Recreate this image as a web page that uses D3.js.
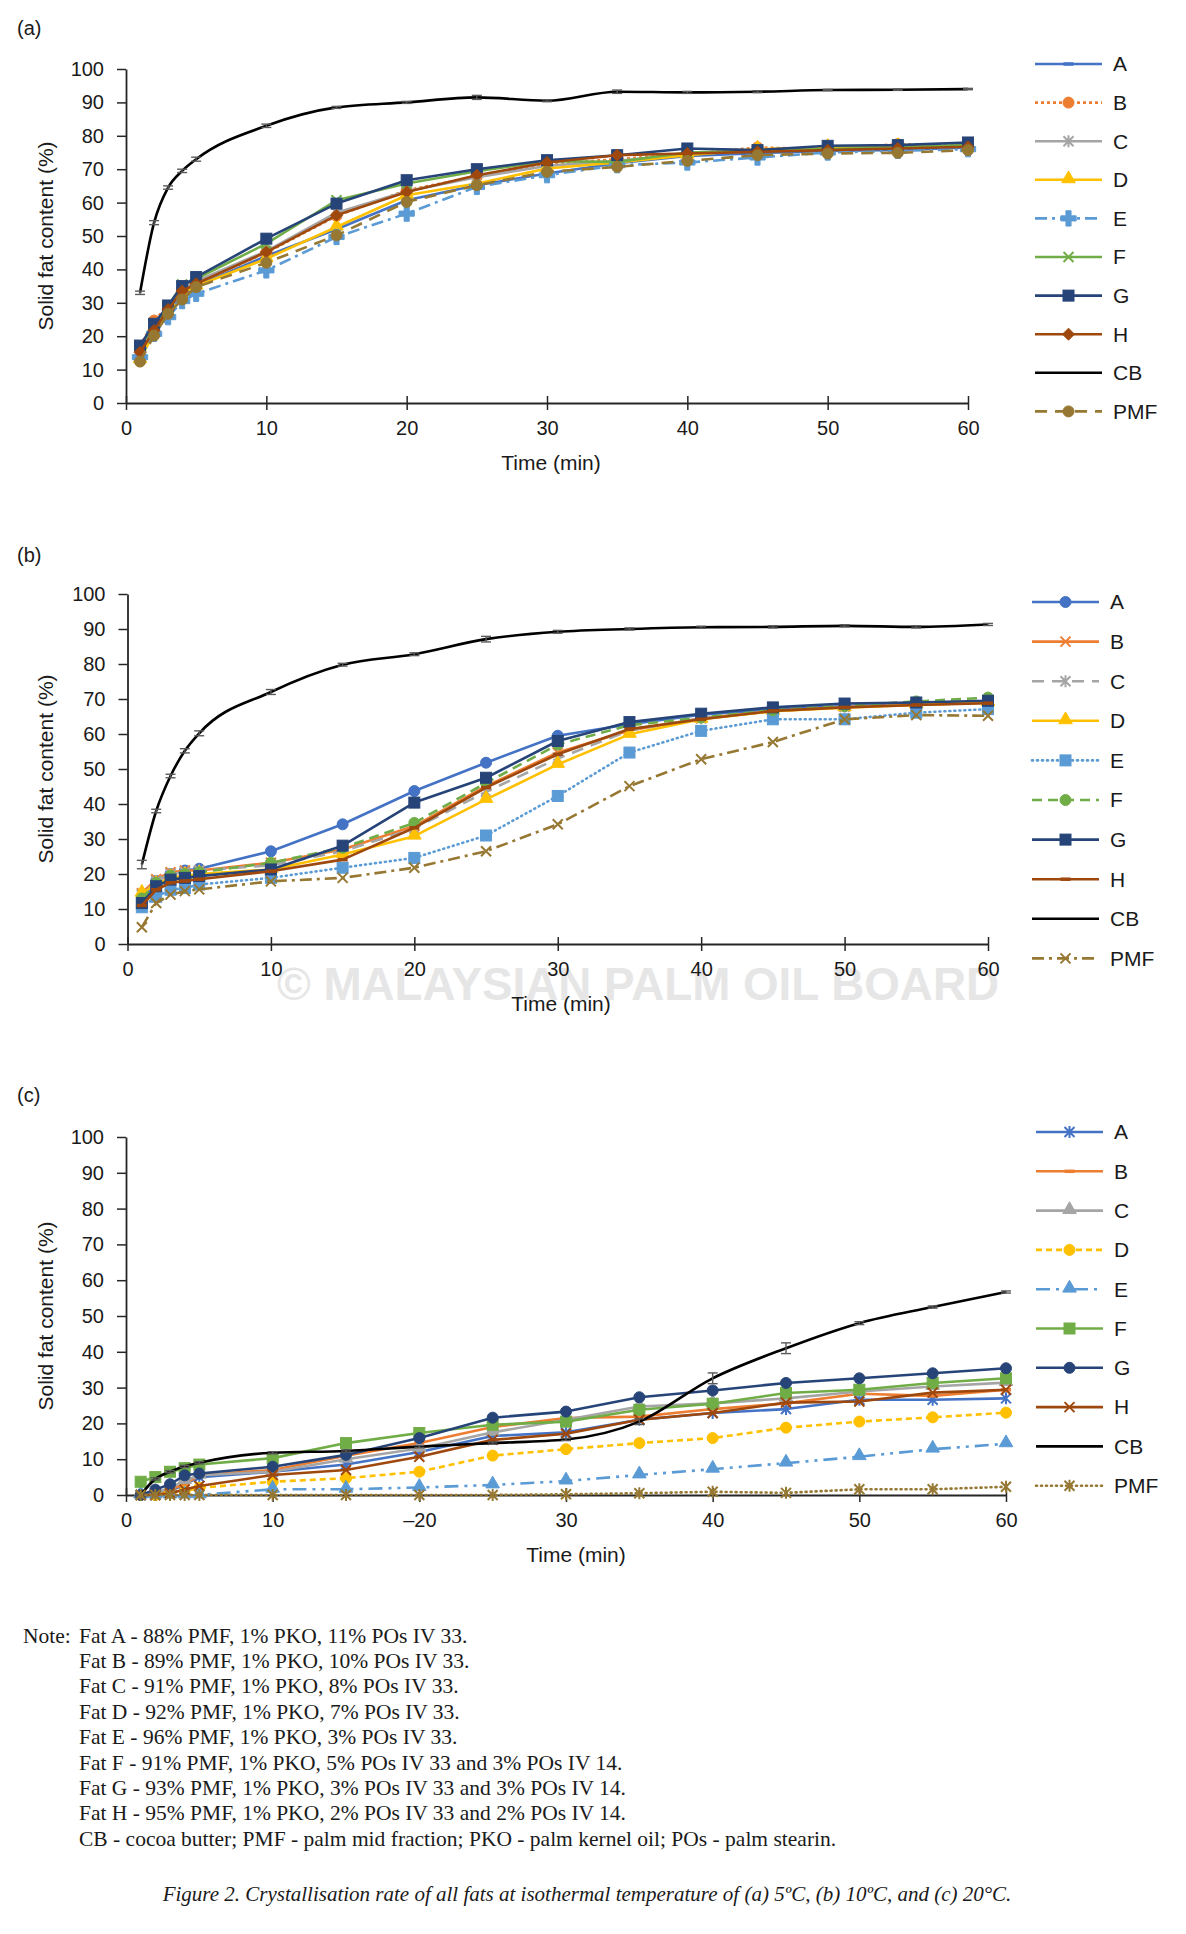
<!DOCTYPE html>
<html>
<head>
<meta charset="utf-8">
<script src="https://cdn.jsdelivr.net/npm/d3@7"></script>
<style>
  html, body { margin: 0; padding: 0; background: #fff; }
  svg text { font-family: "Liberation Sans", Arial, sans-serif; fill: #1a1a1a; }
  .note text { font-family: "Liberation Serif", "Times New Roman", serif; }
</style>
</head>
<body>
<svg id="chart" width="1186" height="1934"></svg>
<script>
// ---- data ----
var times = [1, 2, 3, 4, 5, 10, 15, 20, 25, 30, 35, 40, 45, 50, 55, 60];
var seriesNames = ["A", "B", "C", "D", "E", "F", "G", "H", "CB", "PMF"];
var xTicks = [0, 10, 20, 30, 40, 50, 60];
var xTickLabelsAB = ["0", "10", "20", "30", "40", "50", "60"];
var xTickLabelsC = ["0", "10", "\u201320", "30", "40", "50", "60"];
var yTicks = [0, 10, 20, 30, 40, 50, 60, 70, 80, 90, 100];

// (a) 5 C
var a_A   = [15, 22, 27, 32, 35, 44, 52, 60.7, 65.2, 68.7, 71.8, 74, 74.8, 75.5, 75.8, 76.5];
var a_B   = [17, 24.7, 29, 34, 36, 45, 56, 63.7, 67.8, 71.5, 73, 74.5, 76.5, 76, 77.5, 77];
var a_C   = [16, 23, 28.5, 34.5, 36.5, 45.5, 57, 63.4, 67.6, 71, 72.5, 74.5, 75.5, 76, 76.5, 77];
var a_D   = [13, 21, 27, 32.5, 35, 43.2, 52.7, 62.2, 65.7, 70.2, 72, 74.2, 76, 76.5, 76.8, 77];
var a_E   = [13.7, 20.7, 25.7, 30.5, 32.7, 39.7, 49.7, 56.7, 64.7, 68.2, 71.2, 72, 73.5, 75, 75.5, 76];
var a_F   = [17, 23, 29, 35.5, 37.2, 47.7, 60.7, 65.7, 69.4, 72.4, 72.2, 75, 75.5, 76, 76.5, 77.2];
var a_G   = [17.2, 23.7, 29.2, 35, 37.7, 49.2, 59.7, 66.7, 70, 72.7, 74.2, 76.2, 75.7, 77, 77.2, 78];
var a_H   = [15.2, 21.7, 28, 33.5, 35.7, 45.2, 56.2, 63.2, 68.2, 72, 74.2, 74.7, 75.2, 75.7, 76.2, 76.7];
var a_CB  = [33, 54, 64.5, 69.5, 73, 83, 88.5, 90, 91.5, 90.5, 93.2, 93, 93.2, 93.7, 93.8, 94];
var a_PMF = [12.4, 20.2, 26.7, 31, 34.7, 42, 50.2, 60.2, 65.2, 69.2, 70.7, 72.5, 74.2, 74.7, 74.9, 75.7];
var a_CBerr = [0.5, 0.6, 0.5, 0.5, 0.6, 0.5, 0.3, 0.3, 0.6, 0.3, 0.5, 0.3, 0.3, 0.2, 0.2, 0.2];

// (b) 10 C
var b_A   = [12.5, 18, 20, 21, 21.5, 26.5, 34.2, 43.7, 51.8, 59.5, 62.8, 65.5, 67, 68, 68.5, 69];
var b_B   = [14.5, 18.5, 20.5, 21, 21, 23.2, 27, 33.7, 45.1, 54.7, 61, 64.5, 66.5, 67.8, 68.3, 69];
var b_C   = [14, 18, 20, 20.5, 21, 22.5, 26.5, 33, 43.5, 53, 61, 64.5, 66.5, 67.8, 68.5, 69];
var b_D   = [14.5, 17, 19, 19.5, 20, 21.3, 25.6, 30.8, 41.3, 51.3, 59.9, 64.2, 66.5, 67.5, 68.3, 69];
var b_E   = [10.5, 13.5, 15.5, 16, 17, 18.9, 21.8, 24.6, 31, 42.3, 54.7, 60.9, 64.2, 64.2, 66.1, 67.1];
var b_F   = [13, 17.5, 19.5, 20, 20.5, 23.2, 27.5, 34.6, 46, 57, 62.5, 64.7, 66.8, 68, 69.3, 70.4];
var b_G   = [11.7, 16.5, 18.4, 18.9, 19.4, 21.3, 28.1, 40.4, 47.5, 58, 63.4, 65.8, 67.6, 68.7, 69, 69.5];
var b_H   = [11, 15.5, 17.5, 18, 18.5, 20.8, 24.1, 33.2, 44.7, 54.2, 61.4, 64.2, 66.6, 67.6, 68.3, 68.8];
var b_CB  = [22.7, 38, 48, 55.2, 60.2, 72, 79.8, 82.8, 87.1, 89.2, 90, 90.5, 90.6, 90.9, 90.6, 91.3];
var b_PMF = [4.8, 11.7, 14.1, 15.1, 15.6, 17.9, 18.9, 21.8, 26.5, 34.2, 45.1, 52.8, 57.7, 64.2, 65.4, 65.2];
var b_CBerr = [1.2, 0.5, 0.5, 0.6, 0.7, 0.7, 0.4, 0.4, 0.8, 0.4, 0.3, 0.3, 0.3, 0.3, 0.3, 0.3];

// (c) 20 C
var c_A   = [0, 0, 1, 3, 5, 6.5, 8.5, 12, 16.5, 17.5, 21, 22.9, 24, 26.6, 26.6, 27];
var c_B   = [0, 0.5, 1.5, 3, 5.5, 7, 11, 14.5, 19, 21.5, 21.9, 24, 25.6, 28.3, 27.7, 29.4];
var c_C   = [0, 0.5, 2, 4, 5.5, 6.5, 10, 13, 17.5, 21, 24.7, 25.6, 27, 28.9, 30.3, 31.4];
var c_D   = [0, 0, 0.5, 1, 2, 3.7, 4.7, 6.5, 11, 12.8, 14.5, 15.9, 18.8, 20.5, 21.7, 23];
var c_E   = [0, 0, 0, 0, 0, 1.6, 1.6, 2.1, 2.8, 3.9, 5.6, 7.2, 8.9, 10.7, 12.8, 14.3];
var c_F   = [3.7, 5, 6.5, 7.5, 8.5, 10.3, 14.5, 17.3, 19.6, 20.5, 23.8, 25.5, 28.5, 29.4, 31.3, 32.6];
var c_G   = [0, 1.5, 3, 5.5, 6, 7.9, 11.2, 15.9, 21.6, 23.3, 27.3, 29.2, 31.3, 32.6, 34, 35.4];
var c_H   = [0, 0, 0.5, 1.5, 2.5, 5.6, 7, 10.7, 15.4, 17.1, 21, 22.9, 25.8, 26.1, 28.6, 29.4];
var c_CB  = [0, 4.5, 6.5, 8, 9, 11.8, 12.3, 13.5, 14.5, 15.5, 20.5, 32.6, 41, 48, 52.5, 56.7];
var c_PMF = [0, 0, 0, 0, 0, 0, 0, 0, 0, 0.2, 0.5, 0.9, 0.6, 1.6, 1.6, 2.3];
var c_CBerr = [0.3, 0.3, 0.3, 0.3, 0.3, 0.3, 0.3, 0.3, 0.3, 0.3, 0.8, 1.5, 1.5, 0.4, 0.3, 0.3];

var noteLines = [
  "Fat A - 88% PMF, 1% PKO, 11% POs IV 33.",
  "Fat B - 89% PMF, 1% PKO, 10% POs IV 33.",
  "Fat C - 91% PMF, 1% PKO, 8% POs IV 33.",
  "Fat D - 92% PMF, 1% PKO, 7% POs IV 33.",
  "Fat E - 96% PMF, 1% PKO, 3% POs IV 33.",
  "Fat F - 91% PMF, 1% PKO, 5% POs IV 33 and 3% POs IV 14.",
  "Fat G - 93% PMF, 1% PKO, 3% POs IV 33 and 3% POs IV 14.",
  "Fat H - 95% PMF, 1% PKO, 2% POs IV 33 and 2% POs IV 14.",
  "CB - cocoa butter; PMF - palm mid fraction; PKO - palm kernel oil; POs - palm stearin."
];
var captionText = "Figure 2. Crystallisation rate of all fats at isothermal temperature of (a) 5\u00baC, (b) 10\u00baC, and (c) 20\u00b0C.";

// ---- styles ----
var col = {A: "#4472C4", B: "#ED7D31", C: "#A5A5A5", D: "#FFC000", E: "#5B9BD5",
           F: "#70AD47", G: "#264478", H: "#9E480E", CB: "#000000", PMF: "#967832"};
var dash = {solid: null, dot: "3,3", rdot: "1,4", dashed: "10,6", longdash: "12,8",
            sqdot: "6,4", dashdot: "12,5,3,5", ldashdotdot: "14,6,3,6,3,6"};

var stylesA = {
  A: ["solid", "dash"], B: ["dot", "circle"], C: ["solid", "star"], D: ["solid", "triangle"],
  E: ["dashdot", "cross"], F: ["solid", "x"], G: ["solid", "square"], H: ["solid", "diamond"],
  CB: ["solid", null], PMF: ["longdash", "circle"]
};
var stylesB = {
  A: ["solid", "circle"], B: ["solid", "x"], C: ["longdash", "star"], D: ["solid", "triangle"],
  E: ["rdot", "square"], F: ["dashed", "circle"], G: ["solid", "square"], H: ["solid", "dash"],
  CB: ["solid", null], PMF: ["dashdot", "x"]
};
var stylesC = {
  A: ["solid", "star"], B: ["solid", "dash"], C: ["solid", "triangle"], D: ["sqdot", "circle"],
  E: ["ldashdotdot", "triangle"], F: ["solid", "square"], G: ["solid", "circle"], H: ["solid", "x"],
  CB: ["solid", null], PMF: ["rdot", "star"]
};

var panels = [
  {label: "(a)", labelY: 28, x0: 126, x1: 968, yTop: 69, yBot: 403, xLabX: 551,
   legX: 1035, legY: 64, legDy: 38.6, styles: stylesA, tickLabels: xTickLabelsAB, err: a_CBerr,
   data: {A: a_A, B: a_B, C: a_C, D: a_D, E: a_E, F: a_F, G: a_G, H: a_H, CB: a_CB, PMF: a_PMF}},
  {label: "(b)", labelY: 555, x0: 127.5, x1: 988, yTop: 594, yBot: 944, xLabX: 561,
   legX: 1032, legY: 602, legDy: 39.6, styles: stylesB, tickLabels: xTickLabelsAB, err: b_CBerr,
   watermark: true,
   data: {A: b_A, B: b_B, C: b_C, D: b_D, E: b_E, F: b_F, G: b_G, H: b_H, CB: b_CB, PMF: b_PMF}},
  {label: "(c)", labelY: 1095, x0: 126, x1: 1006, yTop: 1137, yBot: 1495, xLabX: 576,
   legX: 1036, legY: 1132, legDy: 39.3, styles: stylesC, tickLabels: xTickLabelsC, err: c_CBerr,
   data: {A: c_A, B: c_B, C: c_C, D: c_D, E: c_E, F: c_F, G: c_G, H: c_H, CB: c_CB, PMF: c_PMF}}
];

var svg = d3.select("#chart");

// marker shapes
function drawMarker(g, type, color, cx, cy) {
  var s = 11, h = s / 2, m;
  if (!type) return;
  switch (type) {
    case "circle":
      m = g.append("circle").attr("r", 5.5).attr("cx", cx).attr("cy", cy).attr("fill", color);
      break;
    case "square":
      m = g.append("rect").attr("x", cx - h).attr("y", cy - h).attr("width", s).attr("height", s).attr("fill", color);
      break;
    case "triangle":
      m = g.append("path").attr("d", d3.symbol(d3.symbolTriangle, 80)()).attr("transform", "translate(" + cx + "," + (cy - 1) + ")").attr("fill", color);
      break;
    case "diamond":
      m = g.append("path").attr("d", "M0,-6L6,0L0,6L-6,0Z").attr("transform", "translate(" + cx + "," + cy + ")").attr("fill", color);
      break;
    case "cross":
      m = g.append("path").attr("d", d3.symbol(d3.symbolCross, 130)()).attr("transform", "translate(" + cx + "," + cy + ")").attr("fill", color);
      break;
    case "x":
      m = g.append("path").attr("d", "M-5,-5L5,5M-5,5L5,-5").attr("transform", "translate(" + cx + "," + cy + ")")
        .attr("fill", "none").attr("stroke-width", 2);
      break;
    case "star":
      m = g.append("path").attr("d", "M-5,-5L5,5M-5,5L5,-5M0,-6L0,6").attr("transform", "translate(" + cx + "," + cy + ")")
        .attr("fill", "none").attr("stroke-width", 2);
      break;
    case "dash":
      m = g.append("path").attr("d", "M-5,0L5,0").attr("transform", "translate(" + cx + "," + cy + ")")
        .attr("fill", "none").attr("stroke-width", 3.5);
      break;
  }
  m.attr("stroke", color);
  if (type !== "x" && type !== "star" && type !== "dash") m.attr("stroke-width", 1);
}

panels.forEach(function(p) {
  var x = d3.scaleLinear().domain([0, 60]).range([p.x0, p.x1]);
  var y = d3.scaleLinear().domain([0, 100]).range([p.yBot, p.yTop]);
  var g = svg.append("g");

  if (p.watermark) {
    g.append("text")
      .attr("x", 277).attr("y", 1000)
      .attr("textLength", 722).attr("lengthAdjust", "spacingAndGlyphs")
      .style("font-size", "46px").style("font-weight", "bold").style("fill", "#e6e6e6")
      .text("\u00a9 MALAYSIAN PALM OIL BOARD");
  }

  // panel label
  g.append("text").attr("x", 17).attr("y", p.labelY).attr("dy", "0.35em")
    .style("font-size", "20px").text(p.label);

  // y axis
  var yAxisG = g.append("g").attr("transform", "translate(" + p.x0 + ",0)")
    .call(d3.axisLeft(y).tickValues(yTicks).tickSize(9).tickSizeOuter(0).tickPadding(13));
  // x axis, ticks cross the line
  var xAxisG = g.append("g").attr("transform", "translate(0," + p.yBot + ")")
    .call(d3.axisBottom(x).tickValues(xTicks).tickSize(7).tickSizeOuter(0).tickPadding(11)
      .tickFormat(function(d, i) { return p.tickLabels[i]; }));
  xAxisG.selectAll(".tick line").attr("y1", -7);
  [yAxisG, xAxisG].forEach(function(a) {
    a.select(".domain").attr("stroke", "#262626").attr("stroke-width", 1.8);
    a.selectAll(".tick line").attr("stroke", "#262626").attr("stroke-width", 1.5);
    a.selectAll(".tick text").style("font-size", "20px").style("font-family", "Liberation Sans, Arial, sans-serif").attr("fill", "#1a1a1a");
  });

  // axis titles
  g.append("text")
    .attr("transform", "translate(46," + ((p.yTop + p.yBot) / 2) + ") rotate(-90)")
    .attr("text-anchor", "middle").attr("dy", "0.35em")
    .style("font-size", "21px").text("Solid fat content (%)");
  g.append("text")
    .attr("x", p.xLabX).attr("y", p.yBot + 60).attr("dy", "0.35em")
    .attr("text-anchor", "middle").style("font-size", "21px").text("Time (min)");

  // series
  seriesNames.forEach(function(name) {
    var vals = p.data[name];
    var st = p.styles[name];
    var pts = times.map(function(t, i) { return [t, vals[i]]; });
    var line = d3.line()
      .x(function(d) { return x(d[0]); })
      .y(function(d) { return y(d[1]); })
      .curve(name === "CB" ? d3.curveMonotoneX : d3.curveLinear);
    var sg = g.append("g");
    sg.append("path").datum(pts)
      .attr("d", line).attr("fill", "none")
      .attr("stroke", col[name]).attr("stroke-width", 2.6)
      .attr("stroke-dasharray", dash[st[0]])
      .attr("stroke-linecap", st[0] === "rdot" ? "round" : "butt")
      .attr("stroke-linejoin", "round");
    if (name === "CB") {
      pts.forEach(function(d, i) {
        var e = p.err[i], cx = x(d[0]);
        var eg = sg.append("g").attr("stroke", "#5a5a5a").attr("stroke-width", 1.4);
        eg.append("line").attr("x1", cx).attr("x2", cx).attr("y1", y(d[1] - e)).attr("y2", y(d[1] + e));
        eg.append("line").attr("x1", cx - 5).attr("x2", cx + 5).attr("y1", y(d[1] - e)).attr("y2", y(d[1] - e));
        eg.append("line").attr("x1", cx - 5).attr("x2", cx + 5).attr("y1", y(d[1] + e)).attr("y2", y(d[1] + e));
      });
    }
    pts.forEach(function(d) { drawMarker(sg, st[1], col[name], x(d[0]), y(d[1])); });
  });

  // legend
  seriesNames.forEach(function(name, i) {
    var st = p.styles[name];
    var ly = p.legY + i * p.legDy;
    var lg = g.append("g");
    lg.append("line")
      .attr("x1", p.legX).attr("x2", p.legX + 67).attr("y1", ly).attr("y2", ly)
      .attr("stroke", col[name]).attr("stroke-width", 2.6)
      .attr("stroke-dasharray", dash[st[0]])
      .attr("stroke-linecap", st[0] === "rdot" ? "round" : "butt");
    drawMarker(lg, st[1], col[name], p.legX + 33.5, ly);
    lg.append("text").attr("x", p.legX + 78).attr("y", ly).attr("dy", "0.35em")
      .style("font-size", "21px").text(name);
  });
});

// notes
var note = svg.append("g").attr("class", "note");
note.append("text").attr("x", 23).attr("y", 1635).attr("dy", "0.35em")
  .style("font-size", "21.5px").text("Note:");
noteLines.forEach(function(t, i) {
  note.append("text").attr("x", 79).attr("y", 1635 + i * 25.4).attr("dy", "0.35em")
    .style("font-size", "21.5px").text(t);
});
note.append("text").attr("x", 587).attr("y", 1894).attr("dy", "0.35em")
  .attr("text-anchor", "middle").style("font-size", "21px").style("font-style", "italic")
  .text(captionText);
</script>
</body>
</html>
